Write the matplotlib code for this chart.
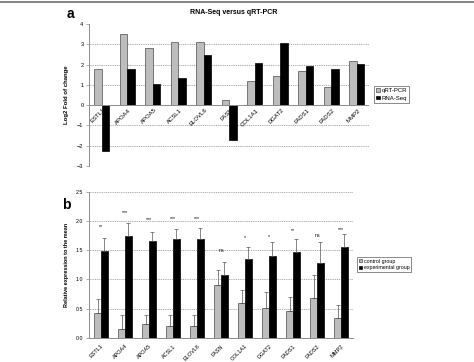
import matplotlib
matplotlib.use("Agg")
import matplotlib.pyplot as plt
import numpy as np

plt.rcParams['font.family'] = ['Liberation Sans', 'DejaVu Sans']

genes = ["ESTL1", "APOA4", "APOA5", "ACSL1", "ELOVL6", "FASN", "COL1A1",
         "DGAT2", "FADS1", "FADS2", "MMP2"]

# Panel a: log2 fold change
qrt_pcr = [1.8, 3.5, 2.8, 3.1, 3.1, 0.25, 1.2, 1.42, 1.7, 0.9, 2.18]
rna_seq = [-2.25, 1.8, 1.05, 1.35, 2.45, -1.7, 2.1, 3.05, 1.95, 1.8, 2.05]

# Panel b: relative expression
control = [0.43, 0.15, 0.24, 0.205, 0.205, 0.90, 0.59, 0.52, 0.455, 0.68, 0.35]
control_err = [0.24, 0.24, 0.16, 0.185, 0.195, 0.26, 0.225, 0.27, 0.245, 0.39, 0.21]
experimental = [1.49, 1.74, 1.66, 1.70, 1.70, 1.07, 1.35, 1.40, 1.47, 1.28, 1.56]
experimental_err = [0.22, 0.23, 0.15, 0.17, 0.18, 0.23, 0.21, 0.24, 0.23, 0.36, 0.22]
signif = ["**", "***", "***", "***", "***", "ns", "*", "*", "**", "ns", "***"]
signif_y = [1.91, 2.15, 2.03, 2.05, 2.05, 1.50, 1.72, 1.73, 1.83, 1.76, 1.86]

W, H = 474, 362
fig = plt.figure(figsize=(W / 100, H / 100), dpi=100)

gray_fill = "#bdbdbd"
edge_gray = "#4d4d4d"
axis_gray = "#8c8c8c"
grid_gray = "#9a9a9a"

# frame line at top
fig.add_artist(plt.Line2D([0, 1], [1 - 2 / H, 1 - 2 / H], color="#7a7a7a", lw=1.3,
                          transform=fig.transFigure))

x = np.arange(len(genes))
bw = 0.29

# ---------- Panel a ----------
ax1 = fig.add_axes([89 / W, 1 - 166 / H, (369.4 - 89) / W, (166 - 24) / H])
ax1.set_xlim(-0.5, len(genes) - 0.5)
ax1.set_ylim(-3, 4)
for g in [-2, -1, 1, 2, 3]:
    ax1.axhline(g, color=grid_gray, lw=0.6, ls=(0, (1.2, 1.0)), zorder=0)
ax1.bar(x - bw / 2, qrt_pcr, bw, color=gray_fill, edgecolor=edge_gray, lw=0.5,
        label="qRT-PCR", zorder=2)
ax1.bar(x + bw / 2, rna_seq, bw, color="black", edgecolor="black", lw=0.5,
        label="RNA-Seq", zorder=2)
ax1.axhline(0, color=axis_gray, lw=0.7, zorder=3)
for s in ["top", "right", "bottom"]:
    ax1.spines[s].set_visible(False)
ax1.spines["left"].set_color(axis_gray)
ax1.spines["left"].set_linewidth(0.7)
ax1.set_yticks(range(-3, 5))
ax1.tick_params(axis="y", labelsize=4, length=2, width=0.5, color=axis_gray, pad=2)
ax1.set_xticks([])
for i, gname in enumerate(genes):
    ax1.text(i + 0.05, -0.12, gname, rotation=45, ha="right", va="top",
             fontsize=4.3, rotation_mode="anchor", zorder=4)
ax1.set_ylabel("Log2 Fold of change", fontsize=4.3, fontweight="bold", labelpad=6)
leg1 = ax1.legend(loc="upper left", bbox_to_anchor=(1.015, 0.565), fontsize=4.3,
                  frameon=True, fancybox=False, edgecolor="#555555",
                  handlelength=0.6, handleheight=0.6, handletextpad=0.3,
                  borderpad=0.4, labelspacing=0.4, borderaxespad=0)
leg1.get_frame().set_linewidth(0.6)
fig.text(234 / W, 1 - 13 / H, "RNA-Seq versus qRT-PCR", fontsize=5,
         fontweight="bold", ha="center", va="center")
fig.text(70 / W, 1 - 14 / H, "a", fontsize=10, fontweight="bold",
         ha="center", va="center")

# ---------- Panel b ----------
ax2 = fig.add_axes([89 / W, 1 - 338 / H, 264 / W, 146.3 / H])
ax2.set_xlim(-0.5, len(genes) - 0.5)
ax2.set_ylim(0, 2.5)
for g in [0.5, 1.0, 1.5, 2.0, 2.5]:
    ax2.axhline(g, color=grid_gray, lw=0.6, ls=(0, (1.2, 1.0)), zorder=0, clip_on=False)
ax2.bar(x - bw / 2, control, bw, color=gray_fill, edgecolor=edge_gray, lw=0.5,
        label="control group", zorder=2)
ax2.bar(x + bw / 2, experimental, bw, color="black", edgecolor="black", lw=0.5,
        label="experimental group", zorder=2)
ax2.errorbar(x - bw / 2, control, yerr=[np.zeros(len(genes)), control_err],
             fmt="none", ecolor="#555555", elinewidth=0.5, capsize=1.2,
             capthick=0.5, zorder=3)
ax2.errorbar(x + bw / 2, experimental, yerr=[np.zeros(len(genes)), experimental_err],
             fmt="none", ecolor="#555555", elinewidth=0.5, capsize=1.2,
             capthick=0.5, zorder=3)
for i, (s, yv) in enumerate(zip(signif, signif_y)):
    ax2.text(i, yv, s, ha="center", va="center", fontsize=3.8, zorder=4)
for s in ["top", "right"]:
    ax2.spines[s].set_visible(False)
for s in ["left", "bottom"]:
    ax2.spines[s].set_color(axis_gray)
    ax2.spines[s].set_linewidth(0.7)
ax2.set_yticks([0, 0.5, 1.0, 1.5, 2.0, 2.5])
ax2.set_yticklabels(["0.0", "0.5", "1.0", "1.5", "2.0", "2.5"])
ax2.tick_params(axis="y", labelsize=3.8, length=2, width=0.5, color=axis_gray, pad=2)
ax2.set_xticks(x)
ax2.set_xticklabels(genes, rotation=45, ha="right", fontsize=4.0,
                    rotation_mode="anchor")
ax2.tick_params(axis="x", length=0, pad=4)
ax2.set_ylabel("Relative expression to the mean", fontsize=4.0, fontweight="bold",
               labelpad=5)
leg2 = ax2.legend(loc="upper left", bbox_to_anchor=(1.016, 0.555), fontsize=3.8,
                  frameon=True, fancybox=False, edgecolor="#555555",
                  handlelength=0.6, handleheight=0.6, handletextpad=0.3,
                  borderpad=0.35, labelspacing=0.3, borderaxespad=0)
leg2.get_frame().set_linewidth(0.6)
fig.text(66 / W, 1 - 205 / H, "b", fontsize=10, fontweight="bold",
         ha="center", va="center")

fig.savefig("out.png", dpi=100)
